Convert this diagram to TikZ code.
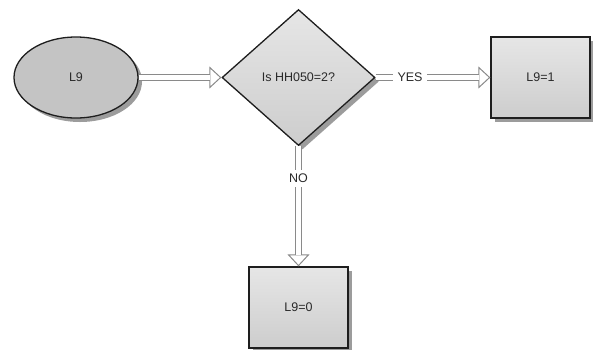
\documentclass[tikz,border=0pt]{standalone}
\usepackage{fontspec}
\setmainfont{Liberation Sans}
\usetikzlibrary{shapes.geometric, arrows.meta, shadows}
\definecolor{inkline}{HTML}{1E1E1E}
\definecolor{txt}{HTML}{2A2A2A}
\definecolor{shadowgray}{HTML}{9C9C9C}
\definecolor{pipe}{HTML}{8A8A8A}
\definecolor{ovalfill}{HTML}{C4C4C4}
\definecolor{lightface}{HTML}{E6E6E6}
\definecolor{darkface}{HTML}{CDCDCD}
\begin{document}
\begin{tikzpicture}[x=1pt, y=-1pt,
  every node/.style={font=\fontsize{12.5}{14}\selectfont, text=txt},
  shapebase/.style={draw=inkline, line width=1.3pt,
    drop shadow={shadow xshift=4pt, shadow yshift=-4pt, fill=shadowgray, opacity=1}},
  startnode/.style={shapebase, ellipse, fill=ovalfill,
    minimum width=124pt, minimum height=81pt, inner sep=0pt},
  decision/.style={shapebase, diamond, top color=lightface, bottom color=darkface,
    minimum width=153pt, minimum height=136pt, inner sep=0pt},
  outbox/.style={shapebase, rectangle, top color=lightface, bottom color=darkface,
    minimum width=99pt, minimum height=81pt},
  pipehead/.style={draw=pipe, line width=1pt,
    -{Triangle[length=12pt, width=22pt, fill=white]}},
  pipebody/.style={draw=pipe, line width=1pt, double=white,
    double distance=5.5pt, shorten >=11.2pt},
  pipelabel/.style={fill=white, inner xsep=4.5pt, inner ysep=4pt}
]
\useasboundingbox (0,0) rectangle (593,349);

% shapes
\node[startnode] (start) at (76,77.5) {L9};
\node[decision]  (test)  at (298.5,77.5) {Is HH050=2?};
\node[outbox]    (one)   at (540.5,77.5) {L9=1};
\node[outbox]    (zero)  at (298.5,307.5) {L9=0};

% hollow arrows: open head first, then the double shaft over it
\draw[pipehead] (start) -- (test);
\draw[pipebody] (start) -- (test);

\draw[pipehead] (test) -- (one);
\draw[pipebody] (test) -- node[pipelabel, pos=0.3] {YES} (one);

\draw[pipehead] (test.south) -- (zero.north);
\draw[pipebody] (test.south) -- node[pipelabel, pos=0.27] {NO} (zero.north);
\end{tikzpicture}
\end{document}
